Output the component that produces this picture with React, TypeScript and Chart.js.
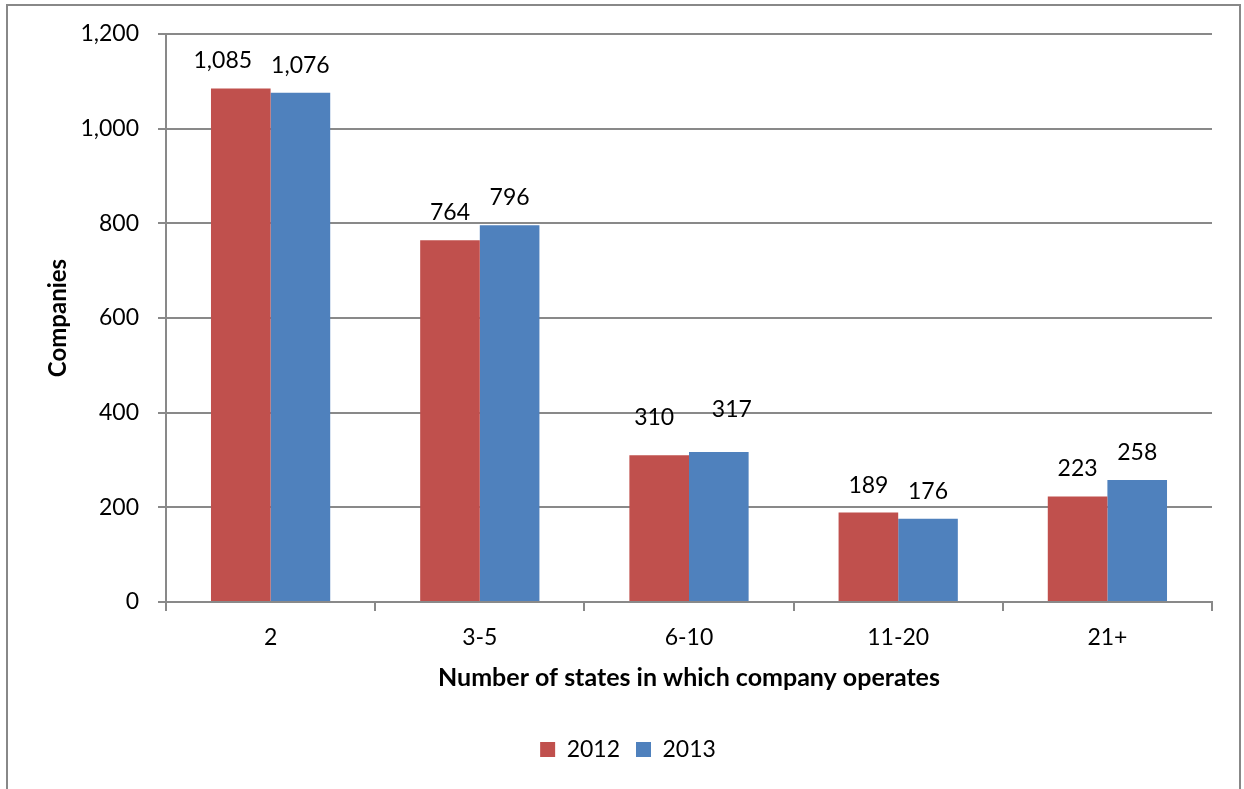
import React, { useEffect, useRef } from "react";
import { Chart, registerables } from "chart.js";

Chart.register(...registerables);

const categories = ["2", "3-5", "6-10", "11-20", "21+"];
const series2012 = [1085, 764, 310, 189, 223];
const series2013 = [1076, 796, 317, 176, 258];
const seriesLabels = ["2012", "2013"];
const yTicks = [0, 200, 400, 600, 800, 1000, 1200];

const FONT = "Lato, 'Noto Sans', sans-serif";

// label nudges (layout only): [datasetIndex][categoryIndex] -> [dx, dy]
const LABEL_NUDGE: [number, number][][] = [
  [[-18, 0], [0, 0], [-5, -10], [0, 0], [0, 0]],
  [[0, 0], [0, 0], [13, -15], [0, 0], [0, 0]],
];

const dataLabelPlugin = {
  id: "dataLabels",
  afterDatasetsDraw(chart: any) {
    const ctx = chart.ctx;
    ctx.save();
    ctx.font = `23px ${FONT}`;
    ctx.fillStyle = "#000";
    ctx.textAlign = "center";
    ctx.textBaseline = "alphabetic";
    chart.data.datasets.forEach((ds: any, di: number) => {
      const meta = chart.getDatasetMeta(di);
      meta.data.forEach((bar: any, i: number) => {
        const v = ds.data[i] as number;
        const [dx, dy] = LABEL_NUDGE[di][i];
        ctx.fillText(v.toLocaleString("en-US"), bar.x + dx, bar.y - 20 + dy);
      });
    });
    ctx.restore();
  },
};

export default function App() {
  const ref = useRef<HTMLCanvasElement | null>(null);
  useEffect(() => {
    if (!ref.current) return;
    const chart = new Chart(ref.current, {
      type: "bar",
      data: {
        labels: categories,
        datasets: [
          { label: seriesLabels[0], data: series2012, backgroundColor: "#C0504D", borderWidth: 0 },
          { label: seriesLabels[1], data: series2013, backgroundColor: "#4F81BD", borderWidth: 0 },
        ],
      },
      options: {
        animation: false,
        responsive: false,
        maintainAspectRatio: false,
        layout: { padding: { top: 34, right: 32, bottom: 18, left: 44 } },
        datasets: { bar: { categoryPercentage: 0.57, barPercentage: 1 } },
        plugins: {
          legend: {
            display: true,
            position: "bottom",
            labels: {
              font: { family: FONT, size: 23 },
              color: "#000",
              boxWidth: 15,
              boxHeight: 15,
              padding: 16,
            },
          },
          tooltip: { enabled: false },
        },
        scales: {
          x: {
            grid: {
              display: true,
              drawOnChartArea: false,
              drawTicks: true,
              tickLength: 9,
              color: "#898989",
              lineWidth: 2,
              offset: true,
            },
            border: { display: true, color: "#898989", width: 2 },
            ticks: { font: { family: FONT, size: 23 }, color: "#000", padding: 13 },
            title: {
              display: true,
              text: "Number of states in which company operates",
              font: { family: FONT, size: 25, weight: "bold" },
              color: "#000",
              padding: { top: 0, bottom: 29 },
            },
            afterFit: (s: any) => {
              s.height = 120;
            },
          },
          y: {
            min: 0,
            max: 1200,
            afterBuildTicks: (s: any) => {
              s.ticks = yTicks.map((v) => ({ value: v }));
            },
            grid: {
              color: "#898989",
              lineWidth: 2,
              drawTicks: true,
              tickLength: 8,
            },
            border: { display: true, color: "#898989", width: 2 },
            ticks: {
              font: { family: FONT, size: 23 },
              color: "#000",
              padding: 19,
              callback: (v: any) => Number(v).toLocaleString("en-US"),
            },
            title: {
              display: true,
              text: "Companies",
              font: { family: FONT, size: 24, weight: "bold" },
              color: "#000",
              padding: { top: 0, bottom: 0 },
            },
            afterFit: (s: any) => {
              s.width = 122;
            },
          },
        },
      },
      plugins: [dataLabelPlugin],
    });
    return () => chart.destroy();
  }, []);

  return (
    <div style={{ position: "absolute", left: 0, top: 0, width: 1244, height: 789, background: "#fff" }}>
      <div
        style={{
          position: "absolute",
          left: 6,
          top: 4,
          width: 1235,
          height: 800,
          border: "2px solid #888",
          boxSizing: "border-box",
        }}
      />
      <canvas ref={ref} width={1244} height={789} style={{ position: "absolute", left: 0, top: 0, width: 1244, height: 789 }} />
    </div>
  );
}
